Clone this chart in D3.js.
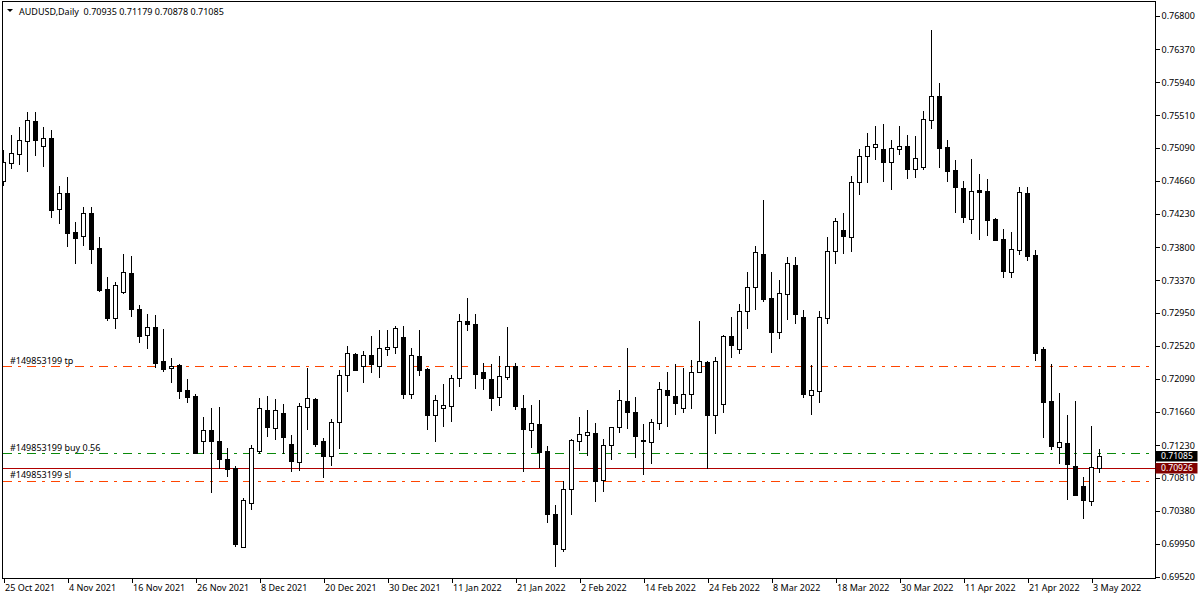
<!DOCTYPE html>
<html>
<head>
<meta charset="utf-8">
<script src="https://cdn.jsdelivr.net/npm/d3@7"></script>
<style>
  body { margin: 0; background: #fff; }
  svg text { font-family: "Noto Sans", sans-serif; font-size: 9px; fill: #000; }
</style>
</head>
<body>
<svg width="1200" height="600"></svg>
<script>
// **** Chart data (AUDUSD daily) ****

const open = [
  0.74659, 0.74892, 0.75009, 0.75178, 0.75437, 0.75113, 0.75217, 0.74295, 0.74503, 0.73997,
  0.73945, 0.74243, 0.73789, 0.73257, 0.72881, 0.73218, 0.73465, 0.72998, 0.72660, 0.72764,
  0.72323, 0.72232, 0.72271, 0.71947, 0.71869, 0.71285, 0.71428, 0.71285, 0.71051, 0.70934,
  0.69909, 0.70480, 0.71155, 0.71687, 0.71454, 0.71648, 0.71246, 0.71012, 0.71726, 0.71830,
  0.71285, 0.71090, 0.71531, 0.72141, 0.72414, 0.72258, 0.72401, 0.72258, 0.72478, 0.72504,
  0.72634, 0.71895, 0.72388, 0.72219, 0.71622, 0.71713, 0.71739, 0.72102, 0.72842, 0.72803,
  0.72180, 0.72089, 0.71856, 0.72115, 0.72258, 0.71713, 0.71428, 0.71505, 0.71155, 0.70337,
  0.69883, 0.70662, 0.71285, 0.71363, 0.71389, 0.70779, 0.71233, 0.71467, 0.71804, 0.71661,
  0.71298, 0.71272, 0.71518, 0.71947, 0.71869, 0.71713, 0.71895, 0.72180, 0.72310, 0.71622,
  0.71765, 0.72647, 0.72478, 0.72972, 0.73283, 0.73711, 0.73140, 0.72699, 0.73192, 0.73569,
  0.72894, 0.71882, 0.71934, 0.72881, 0.73750, 0.74023, 0.73932, 0.74646, 0.74983, 0.75100,
  0.75074, 0.74905, 0.75074, 0.75113, 0.74815, 0.74840, 0.75450, 0.75762, 0.75100, 0.74802,
  0.74568, 0.74166, 0.74542, 0.74529, 0.74166, 0.73906, 0.73478, 0.73763, 0.74503, 0.73698,
  0.72478, 0.71804, 0.71207, 0.71259, 0.70960, 0.70701, 0.70506, 0.70935
];

const high = [
  0.75061, 0.75256, 0.75359, 0.75554, 0.75554, 0.75359, 0.75321, 0.74594, 0.74711, 0.74127,
  0.74321, 0.74321, 0.73932, 0.73413, 0.73348, 0.73711, 0.73685, 0.73050, 0.72933, 0.72920,
  0.72738, 0.72362, 0.72284, 0.72089, 0.71895, 0.71596, 0.71713, 0.71726, 0.71194, 0.70960,
  0.70545, 0.71233, 0.71843, 0.71869, 0.71830, 0.71765, 0.71363, 0.71778, 0.72232, 0.71843,
  0.71324, 0.71570, 0.72206, 0.72518, 0.72427, 0.72453, 0.72647, 0.72725, 0.72725, 0.72777,
  0.72777, 0.72491, 0.72725, 0.72232, 0.71882, 0.72024, 0.72141, 0.72933, 0.73140, 0.72933,
  0.72297, 0.72284, 0.72388, 0.72764, 0.72297, 0.71882, 0.71752, 0.71817, 0.71220, 0.70454,
  0.70766, 0.71311, 0.71596, 0.71687, 0.71518, 0.71311, 0.71470, 0.71947, 0.72491, 0.71856,
  0.71505, 0.71570, 0.72050, 0.72180, 0.72284, 0.72232, 0.72336, 0.72842, 0.72323, 0.72375,
  0.72660, 0.72894, 0.73063, 0.73478, 0.73815, 0.74412, 0.73478, 0.73374, 0.73672, 0.73672,
  0.72985, 0.72271, 0.72972, 0.73932, 0.74179, 0.74243, 0.74724, 0.75074, 0.75282, 0.75372,
  0.75398, 0.75191, 0.75372, 0.75256, 0.75243, 0.75567, 0.76618, 0.75930, 0.75191, 0.74931,
  0.74659, 0.74944, 0.74750, 0.74685, 0.74179, 0.74036, 0.73997, 0.74581, 0.74581, 0.73763,
  0.72504, 0.72284, 0.71908, 0.71622, 0.71804, 0.70817, 0.71480, 0.71179
];

const low = [
  0.74607, 0.74827, 0.74879, 0.74789, 0.74996, 0.74853, 0.74191, 0.74114, 0.73815, 0.73595,
  0.73828, 0.73595, 0.73231, 0.72855, 0.72751, 0.73205, 0.72907, 0.72569, 0.72491, 0.72245,
  0.72193, 0.72050, 0.71843, 0.71791, 0.71125, 0.71129, 0.70623, 0.70934, 0.70830, 0.69922,
  0.69905, 0.70402, 0.71129, 0.71350, 0.71311, 0.71129, 0.70895, 0.70908, 0.71441, 0.71220,
  0.70817, 0.70973, 0.71194, 0.71934, 0.72200, 0.72050, 0.72180, 0.72115, 0.72401, 0.72427,
  0.71843, 0.71843, 0.72141, 0.71441, 0.71285, 0.71480, 0.71544, 0.71998, 0.72725, 0.71972,
  0.71959, 0.71687, 0.71752, 0.72089, 0.71700, 0.70895, 0.71207, 0.70947, 0.70234, 0.69662,
  0.69857, 0.70337, 0.71168, 0.71103, 0.70506, 0.70636, 0.71051, 0.71402, 0.71454, 0.71077,
  0.70856, 0.70999, 0.71441, 0.71480, 0.71635, 0.71661, 0.71713, 0.72175, 0.70934, 0.71389,
  0.71661, 0.72375, 0.72427, 0.72751, 0.72998, 0.73102, 0.72440, 0.72621, 0.72868, 0.72816,
  0.71856, 0.71635, 0.71791, 0.72816, 0.73595, 0.73724, 0.73750, 0.74490, 0.74646, 0.74944,
  0.74659, 0.74555, 0.75009, 0.74698, 0.74711, 0.74815, 0.75346, 0.74840, 0.74659, 0.74256,
  0.74127, 0.73984, 0.73906, 0.73958, 0.73890, 0.73413, 0.73413, 0.73711, 0.73634, 0.72336,
  0.71337, 0.71181, 0.70999, 0.70532, 0.70580, 0.70286, 0.70454, 0.70878
];

const close = [
  0.74905, 0.75022, 0.75191, 0.75450, 0.75191, 0.75217, 0.74282, 0.74503, 0.73984, 0.73919,
  0.74243, 0.73776, 0.73244, 0.72881, 0.73309, 0.73478, 0.72998, 0.72647, 0.72764, 0.72297,
  0.72219, 0.72258, 0.71934, 0.71856, 0.71129, 0.71428, 0.71285, 0.71051, 0.70921, 0.69948,
  0.70519, 0.71194, 0.71713, 0.71467, 0.71687, 0.71337, 0.71025, 0.71739, 0.71843, 0.71246,
  0.71090, 0.71531, 0.72141, 0.72427, 0.72206, 0.72401, 0.72284, 0.72491, 0.72504, 0.72751,
  0.71895, 0.72401, 0.72206, 0.71622, 0.71817, 0.71752, 0.72102, 0.72842, 0.72803, 0.72154,
  0.72102, 0.71843, 0.72128, 0.72258, 0.71739, 0.71441, 0.71518, 0.71142, 0.70337, 0.69948,
  0.70662, 0.71298, 0.71376, 0.71402, 0.70766, 0.71233, 0.71467, 0.71817, 0.71661, 0.71350,
  0.71285, 0.71531, 0.71960, 0.71882, 0.71778, 0.71895, 0.72180, 0.72323, 0.71622, 0.72323,
  0.72647, 0.72530, 0.72972, 0.73283, 0.73737, 0.73127, 0.72699, 0.73205, 0.73595, 0.72933,
  0.71895, 0.71947, 0.72894, 0.73750, 0.74140, 0.73945, 0.74646, 0.74983, 0.75113, 0.75139,
  0.74905, 0.75087, 0.75113, 0.74815, 0.74957, 0.75463, 0.75762, 0.75087, 0.74789, 0.74581,
  0.74191, 0.74529, 0.74516, 0.74153, 0.73893, 0.73491, 0.73776, 0.74516, 0.73685, 0.72427,
  0.71791, 0.71220, 0.71272, 0.70986, 0.70584, 0.70519, 0.70947, 0.71085
];

// bar index of each date label on the time scale
const dateTicks = [0, 8, 16, 24, 32, 40, 48, 56, 64, 72, 80, 88, 96, 104, 112, 120, 128, 136];
const dateLabels = ['25 Oct 2021', '4 Nov 2021', '16 Nov 2021', '26 Nov 2021', '8 Dec 2021',
  '20 Dec 2021', '30 Dec 2021', '11 Jan 2022', '21 Jan 2022', '2 Feb 2022', '14 Feb 2022',
  '24 Feb 2022', '8 Mar 2022', '18 Mar 2022', '30 Mar 2022', '11 Apr 2022', '21 Apr 2022',
  '3 May 2022'];

const priceTicks = [0.76800, 0.76370, 0.75940, 0.75510, 0.75090, 0.74660, 0.74230, 0.73800,
  0.73370, 0.72950, 0.72520, 0.72090, 0.71660, 0.71230, 0.70810, 0.70380, 0.69950, 0.69520];

// order levels and price lines
const orderLevels = [
  { label: '#149853199 tp', price: 0.72258, color: '#ff4500' },
  { label: '#149853199 buy 0.56', price: 0.71125, color: '#0a8a0a' },
  { label: '#149853199 sl', price: 0.70766, color: '#ff4500' }
];
const bidPrice = 0.71085;
const levelPrice = 0.70926;

const symbolTitle = 'AUDUSD,Daily';

// **** Scales ****

const plotLeft = 2.5, plotRight = 1155.5, plotTop = 1.5, plotBottom = 578.5;

const xScale = d3.scaleLinear()
  .domain([0, open.length - 1])
  .range([3.5, 3.5 + (open.length - 1) * 8]);

const yScale = d3.scaleLinear()
  .domain([0.69520, 0.76800])
  .range([577, 16]);

const svg = d3.select('svg');
const crisp = v => Math.round(v) + 0.5;

svg.append('defs').append('clipPath').attr('id', 'plot')
  .append('rect')
  .attr('x', plotLeft + 0.5).attr('y', plotTop)
  .attr('width', plotRight - plotLeft - 0.5).attr('height', plotBottom - plotTop);

// **** Order / price lines ****

const lines = svg.append('g').attr('clip-path', 'url(#plot)');

orderLevels.forEach(o => {
  lines.append('line')
    .attr('x1', plotLeft).attr('x2', plotRight)
    .attr('y1', crisp(yScale(o.price))).attr('y2', crisp(yScale(o.price)))
    .attr('stroke', o.color)
    .attr('stroke-width', 1)
    .attr('stroke-dasharray', '9,6,3,6')
    .attr('shape-rendering', 'crispEdges');
});

lines.append('line')
  .attr('x1', plotLeft).attr('x2', plotRight)
  .attr('y1', crisp(yScale(levelPrice) - 0.5)).attr('y2', crisp(yScale(levelPrice) - 0.5))
  .attr('stroke', '#b00000')
  .attr('stroke-width', 1)
  .attr('shape-rendering', 'crispEdges');

// **** Candles ****

const bars = d3.range(open.length).map(i => ({
  i, o: open[i], h: high[i], l: low[i], c: close[i]
}));

const candles = svg.append('g')
  .attr('clip-path', 'url(#plot)')
  .attr('shape-rendering', 'crispEdges');

candles.selectAll('line.wick')
  .data(bars).enter()
  .append('line')
  .attr('class', 'wick')
  .attr('x1', d => xScale(d.i)).attr('x2', d => xScale(d.i))
  .attr('y1', d => Math.round(yScale(d.h)))
  .attr('y2', d => Math.round(yScale(d.l)) + 1)
  .attr('stroke', '#000');

candles.selectAll('rect.body')
  .data(bars).enter()
  .append('rect')
  .attr('class', 'body')
  .attr('x', d => xScale(d.i) - 2)
  .attr('y', d => crisp(yScale(Math.max(d.o, d.c))))
  .attr('width', 4)
  .attr('height', d => Math.max(0, crisp(yScale(Math.min(d.o, d.c))) - crisp(yScale(Math.max(d.o, d.c)))))
  .attr('fill', d => d.c >= d.o ? '#fff' : '#000')
  .attr('stroke', '#000')
  .attr('stroke-width', 1);

// **** Order labels ****

orderLevels.forEach(o => {
  svg.append('text')
    .attr('x', 10)
    .attr('y', yScale(o.price) - 2.5)
    .text(o.label);
});

// **** Frame and axes ****

svg.append('path')
  .attr('d', `M${plotLeft},${plotTop}H${plotRight}V${plotBottom}H${plotLeft}Z`)
  .attr('fill', 'none')
  .attr('stroke', '#000')
  .attr('shape-rendering', 'crispEdges');

const yAxis = svg.append('g')
  .attr('transform', `translate(${plotRight},0)`)
  .call(d3.axisRight(yScale)
    .tickValues(priceTicks)
    .tickFormat(d3.format('.5f'))
    .tickSize(4)
    .tickPadding(2))
  .attr('shape-rendering', 'crispEdges');
yAxis.select('.domain').remove();
yAxis.selectAll('text').style('font-size', '9px');

const xAxis = svg.append('g')
  .attr('transform', `translate(0,${plotBottom})`)
  .call(d3.axisBottom(xScale)
    .tickValues(dateTicks)
    .tickFormat((d, i) => dateLabels[i])
    .tickSize(4)
    .tickPadding(2))
  .attr('shape-rendering', 'crispEdges');
xAxis.select('.domain').remove();
xAxis.selectAll('text')
  .attr('text-anchor', 'start')
  .attr('x', 1)
  .style('font-size', '9px');

// **** Price labels on the scale ****

[{ price: bidPrice, fill: '#000' }, { price: levelPrice, fill: '#800000' }].forEach(p => {
  const yy = Math.round(yScale(p.price) - 0.5);
  svg.append('rect')
    .attr('x', plotRight).attr('y', yy - 5)
    .attr('width', 42).attr('height', 10.5)
    .attr('fill', p.fill);
  svg.append('text')
    .attr('x', plotRight + 5.5)
    .attr('y', yy + 0.5)
    .attr('dy', '0.32em')
    .style('font-size', '8.6px')
    .style('fill', '#fff')
    .text(d3.format('.5f')(p.price));
});

// **** Title ****

svg.append('path')
  .attr('d', 'M7,9L13,9L10,12Z')
  .attr('fill', '#000');

svg.append('text')
  .attr('x', 19)
  .attr('y', 15)
  .attr('xml:space', 'preserve')
  .style('white-space', 'pre')
  .text(`${symbolTitle}  ${d3.format('.5f')(open[open.length - 1])} ${d3.format('.5f')(high[high.length - 1])} ${d3.format('.5f')(low[low.length - 1])} ${d3.format('.5f')(close[close.length - 1])}`);
</script>
</body>
</html>
